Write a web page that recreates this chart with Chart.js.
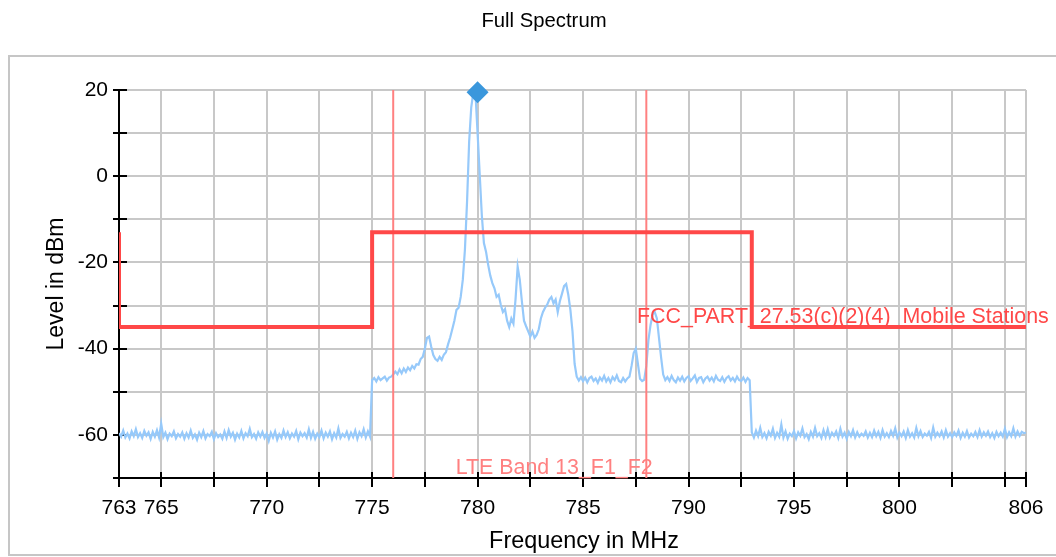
<!DOCTYPE html>
<html>
<head>
<meta charset="utf-8">
<title>Full Spectrum</title>
<script src="https://cdn.jsdelivr.net/npm/chart.js@4/dist/chart.umd.min.js"></script>
<style>
  html, body { margin: 0; padding: 0; background: #fff; }
  #wrap { width: 1056px; height: 557px; position: relative; }
</style>
</head>
<body>
<div id="wrap"><canvas id="chart"></canvas></div>
<script>
//Spectrum trace, one reading every 0.1 MHz starting at 763 MHz
const freqStart = 763;
const freqStep = 0.1;
const levels = [
  // 763.0 - 774.9
  -59.6, -60.4, -59.0, -60.6, -59.7, -60.8, -59.2, -60.3, -58.7, -60.5,
  -59.6, -60.7, -59.1, -60.2, -59.4, -60.9, -59.3, -60.4, -58.9, -60.6,
  -57.4, -60.5, -59.5, -61.0, -59.7, -60.3, -59.2, -60.8, -59.8, -60.4,
  -59.4, -60.9, -59.6, -60.6, -59.0, -60.7, -59.9, -61.1, -59.5, -60.5,
  -59.1, -60.8, -59.8, -60.3, -59.3, -61.0, -59.6, -60.5, -59.9, -60.9,
  -59.2, -60.7, -58.9, -60.4, -59.5, -61.1, -59.7, -60.6, -59.1, -60.8,
  -59.6, -60.3, -58.6, -60.5, -59.8, -60.9, -59.4, -60.4, -59.3, -60.7,
  -59.7, -61.4, -59.5, -60.6, -59.2, -61.1, -59.8, -60.7, -59.0, -60.5,
  -59.4, -60.8, -59.7, -60.4, -59.1, -61.0, -59.5, -60.3, -59.6, -60.6,
  -58.7, -60.7, -59.3, -60.9, -59.7, -60.5, -59.0, -60.8, -59.5, -60.4,
  -59.2, -61.0, -59.6, -60.6, -58.5, -60.7, -59.8, -60.4, -59.3, -60.8,
  -59.5, -60.5, -59.0, -60.9, -59.4, -60.3, -58.7, -60.6, -59.2, -60.4,
  // 775.0 - 792.9
  -47.3, -46.8, -47.6, -46.6, -47.3, -46.9, -46.5, -47.4, -46.7, -46.5,
  -46.0, -45.3, -45.9, -44.8, -45.7, -44.6, -45.4, -44.4, -45.0, -44.0,
  -44.6, -43.6, -43.7, -42.4, -41.9, -40.0, -37.5, -37.2, -39.5, -41.5,
  -42.4, -42.8, -41.9, -42.6, -41.4, -40.8, -39.0, -37.4, -35.5, -33.5,
  -31.0, -30.5, -28.0, -24.0, -17.0, -6.0, 8.0, 16.0, 19.5, 19.2,
  10.0, 0.5, -9.0, -15.5, -17.5, -20.5, -23.0, -24.8, -26.0, -28.0,
  -27.5, -29.8, -31.5, -30.8, -33.5, -35.0, -33.0, -34.2, -28.5, -21.0,
  -24.0, -29.0, -33.5, -34.8, -36.0, -37.2, -36.0, -37.5, -36.8, -35.5,
  -33.0, -31.5, -30.5, -29.8, -28.6, -28.0, -29.5, -28.6, -31.5, -29.0,
  -27.3, -25.5, -25.0, -27.5, -31.0, -36.0, -43.5, -46.5, -47.4, -46.6,
  -47.5, -46.7, -47.8, -46.8, -46.5, -47.5, -46.9, -47.9, -46.7, -47.4,
  -46.3, -47.6, -46.8, -47.8, -46.6, -47.3, -46.2, -47.5, -47.8, -46.8,
  -47.6, -46.9, -46.5, -44.0, -41.0, -40.0, -43.5, -47.0, -47.5, -47.2,
  -44.0, -38.0, -34.5, -32.0, -31.5, -33.0, -37.5, -42.0, -46.0, -47.3,
  -46.6, -47.5, -46.3, -47.3, -47.8, -46.7, -47.4, -46.5, -47.6, -46.8,
  -46.4, -47.5, -46.9, -46.2, -47.7, -46.8, -46.6, -47.8, -46.9, -46.5,
  -47.4, -46.7, -47.6, -46.3, -47.2, -47.5, -46.6, -47.7, -46.8, -46.4,
  -47.4, -46.8, -47.6, -46.5, -47.3, -47.5, -46.7, -47.7, -46.8, -47.3,
  // 793.0 - 806.0
  -59.4, -60.6, -59.0, -60.3, -58.4, -60.5, -59.6, -60.8, -59.3, -60.2,
  -58.6, -60.7, -59.5, -60.4, -57.6, -60.6, -59.2, -60.9, -59.7, -60.3,
  -59.1, -60.8, -59.4, -60.2, -58.5, -60.5, -59.8, -61.0, -59.3, -60.4,
  -58.4, -60.3, -59.6, -60.7, -58.9, -60.5, -58.7, -60.6, -59.5, -60.2,
  -59.2, -60.7, -58.6, -60.4, -59.5, -60.9, -59.3, -60.3, -58.9, -60.6,
  -59.4, -60.4, -59.7, -60.2, -59.2, -60.6, -59.5, -60.5, -59.0, -60.3,
  -59.3, -60.7, -58.9, -60.4, -59.6, -60.5, -59.1, -60.2, -58.5, -60.6,
  -59.5, -60.3, -59.2, -60.7, -58.9, -60.4, -59.6, -60.6, -58.4, -60.3,
  -59.1, -60.5, -59.7, -60.2, -59.3, -60.7, -58.3, -60.4, -59.5, -60.3,
  -59.2, -60.6, -58.9, -60.4, -59.6, -60.5, -59.4, -60.2, -59.0, -60.7,
  -59.5, -60.4, -59.1, -60.6, -59.7, -60.3, -59.3, -60.5, -58.9, -60.4,
  -59.4, -60.2, -59.2, -60.5, -59.6, -60.7, -59.3, -60.3, -59.5, -60.4,
  -58.6, -60.5, -59.4, -60.3, -58.5, -60.4, -59.2, -60.2, -59.3, -59.6,
  -59.5
];

//Limit line (FCC part 27.53)
const limitFreqs = [763, 763, 775, 775, 793, 793, 806];
const limitLevels = [-13, -35, -35, -13, -13, -35, -35];

//Band edges (LTE Band 13 F1/F2)
const bandEdges = [776, 788];

//Peak marker
const peakFreq = [780];
const peakLevel = [19.5];

//Axes
const freqTicks = [763, 765, 767.5, 770, 772.5, 775, 777.5, 780, 782.5, 785, 787.5, 790, 792.5, 795, 797.5, 800, 802.5, 805, 806];
const freqLabels = [763, 765, 770, 775, 780, 785, 790, 795, 800, 806];
const levelTicks = [-70, -60, -50, -40, -30, -20, -10, 0, 10, 20];
const levelLabels = [-60, -40, -20, 0, 20];

//Text labels on the plot (position in MHz / dBm)
const notes = [
  { text: 'FCC_PART_27.53(c)(2)(4)_Mobile Stations', freq: 787.56, level: -32.6, align: 'left' },
  { text: 'LTE Band 13_F1_F2', freq: 783.63, level: -67.7, align: 'center' }
];
const noteColors = ['rgb(255, 72, 72)', 'rgb(255, 128, 128)'];

const FONT = "'Liberation Sans', Arial, sans-serif";

const spectrumData = levels.map((v, i) => ({ x: Math.round((freqStart + i * freqStep) * 10) / 10, y: v }));
const limitData = limitFreqs.map((f, i) => ({ x: f, y: limitLevels[i] }));
const peakData = peakFreq.map((f, i) => ({ x: f, y: peakLevel[i] }));

const edgeSets = bandEdges.map(f => ({
  type: 'line',
  data: [{ x: f, y: levelTicks[0] }, { x: f, y: levelTicks[levelTicks.length - 1] }],
  borderColor: 'rgb(255, 128, 128)',
  borderWidth: 2,
  pointRadius: 0,
  order: 2
}));

//Grey frame round the plot block
const frame = {
  id: 'frame',
  beforeDraw(chart) {
    const c = chart.ctx;
    c.save();
    c.fillStyle = '#fff';
    c.fillRect(0, 0, chart.width, chart.height);
    c.strokeStyle = '#c6c6c6';
    c.lineWidth = 2;
    c.strokeRect(9, 56, 1100, 499);
    c.restore();
  }
};

//Tick marks crossing the axes (under the traces)
const axisTicks = {
  id: 'axisTicks',
  beforeDatasetsDraw(chart) {
    const { ctx: c, chartArea: a, scales: { x, y } } = chart;
    c.save();
    c.strokeStyle = '#000';
    c.lineWidth = 2;
    c.beginPath();
    x.ticks.forEach(t => {
      const px = Math.round(x.getPixelForValue(t.value));
      c.moveTo(px, a.bottom - 6);
      c.lineTo(px, a.bottom + 9);
    });
    y.ticks.forEach(t => {
      const py = Math.round(y.getPixelForValue(t.value));
      c.moveTo(a.left - 6, py);
      c.lineTo(a.left + 8, py);
    });
    c.stroke();
    c.restore();
  }
};

//Plot texts, chart title and x axis title
const noteText = {
  id: 'noteText',
  afterDatasetsDraw(chart) {
    const { ctx: c, scales: { x, y } } = chart;
    c.save();
    c.font = '21.4px ' + FONT;
    c.textBaseline = 'middle';
    notes.forEach((n, i) => {
      c.fillStyle = noteColors[i];
      c.textAlign = n.align;
      c.fillText(n.text, x.getPixelForValue(n.freq), y.getPixelForValue(n.level));
    });
    c.fillStyle = '#000';
    c.textAlign = 'center';
    c.font = '20.3px ' + FONT;
    c.fillText('Full Spectrum', 544, 21);
    c.font = '23.4px ' + FONT;
    c.fillText('Frequency in MHz', 584, 542);
    c.restore();
  }
};

const chart = new Chart(document.querySelector('#chart'), {
  type: 'line',
  data: {
    datasets: [
      {
        type: 'scatter',
        data: peakData,
        pointStyle: 'rectRot',
        pointRadius: 11,
        pointBackgroundColor: 'rgb(58, 151, 220)',
        pointBorderWidth: 0,
        clip: false,
        order: 0
      },
      {
        data: limitData,
        borderColor: 'rgb(255, 72, 72)',
        borderWidth: 4,
        pointRadius: 0,
        order: 1
      },
      ...edgeSets,
      {
        data: spectrumData,
        borderColor: 'rgb(150, 201, 250)',
        borderWidth: 2.2,
        pointRadius: 0,
        order: 3
      }
    ]
  },
  options: {
    responsive: true,
    maintainAspectRatio: false,
    animation: false,
    layout: { padding: { top: 90, right: 30, bottom: 0, left: 0 } },
    plugins: {
      legend: { display: false },
      tooltip: { enabled: false },
      title: { display: false }
    },
    scales: {
      x: {
        type: 'linear',
        min: 763,
        max: 806,
        afterBuildTicks: axis => { axis.ticks = freqTicks.map(v => ({ value: v })); },
        afterFit: scale => {
          scale.height = 79;
          scale.paddingLeft = 0;
          scale.paddingRight = 0;
        },
        ticks: {
          autoSkip: false,
          maxRotation: 0,
          padding: 18,
          color: '#000',
          font: { family: FONT, size: 21 },
          callback: value => freqLabels.includes(value) ? String(value) : ''
        },
        grid: { color: '#c8c8c8', lineWidth: 2, drawTicks: false },
        border: { color: '#000', width: 2 }
      },
      y: {
        type: 'linear',
        min: -70,
        max: 20,
        afterBuildTicks: axis => { axis.ticks = levelTicks.map(v => ({ value: v })); },
        afterFit: scale => { scale.width = 119; },
        ticks: {
          padding: 11,
          color: '#000',
          font: { family: FONT, size: 21 },
          callback: value => levelLabels.includes(value) ? String(value) : ''
        },
        grid: { color: '#c8c8c8', lineWidth: 2, drawTicks: false },
        border: { color: '#000', width: 2 },
        title: {
          display: true,
          text: 'Level in dBm',
          color: '#000',
          font: { family: FONT, size: 23 },
          padding: { top: 43, bottom: 0 }
        }
      }
    }
  },
  plugins: [frame, axisTicks, noteText]
});
</script>
</body>
</html>
